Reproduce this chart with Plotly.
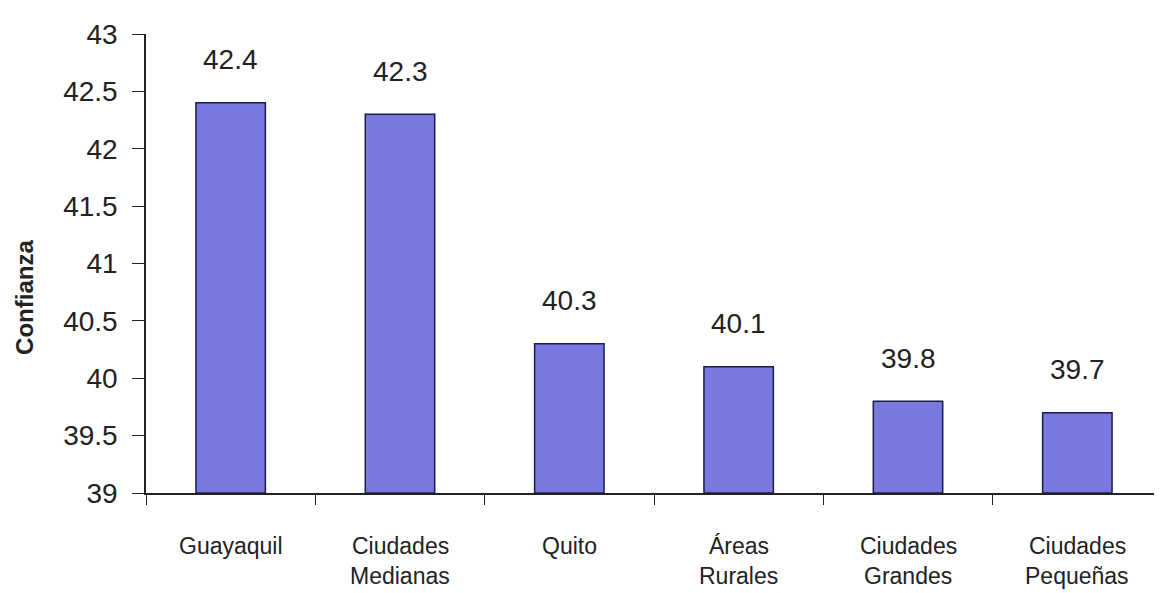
import plotly.graph_objects as go

categories = ["Guayaquil", "Ciudades<br>Medianas", "Quito", "Áreas<br>Rurales", "Ciudades<br>Grandes", "Ciudades<br>Pequeñas"]
values = [42.4, 42.3, 40.3, 40.1, 39.8, 39.7]
y_ticks = [39, 39.5, 40, 40.5, 41, 41.5, 42, 42.5, 43]
y_tick_text = ["39", "39.5", "40", "40.5", "41", "41.5", "42", "42.5", "43"]
BASE = 39

fig = go.Figure()
fig.add_trace(go.Bar(
    x=categories, y=[v - BASE for v in values], base=BASE,
    width=0.41,
    marker=dict(color="#7878E0", line=dict(color="#1c1c48", width=1.5)),
    hoverinfo="skip",
))

annotations = []
for c, v in zip(categories, values):
    annotations.append(dict(x=c, y=v, xref="x", yref="y", text=f"{v:.1f}", showarrow=False,
                            yanchor="middle", yshift=43, font=dict(size=28, color="#222222")))
    for i, line in enumerate(c.split("<br>")):
        annotations.append(dict(x=c, y=0, xref="x", yref="paper", text=line, showarrow=False,
                                yanchor="middle", yshift=-53 - 30 * i,
                                font=dict(size=23, color="#222222")))
annotations.append(dict(x=0, xref="paper", xshift=-121, xanchor="center", y=40.7, yref="y",
                        yanchor="middle", text="<b>Confianza</b>", textangle=-90, showarrow=False,
                        font=dict(size=24, color="#222222")))

fig.update_layout(
    width=1154, height=585,
    margin=dict(l=138, r=0, t=26, b=100),
    paper_bgcolor="white", plot_bgcolor="white",
    font=dict(family="Liberation Sans, Arial, sans-serif", color="#222222"),
    showlegend=False,
    annotations=annotations,
    xaxis=dict(showticklabels=False, showline=True, linecolor="#222222", linewidth=1.5,
               ticks="outside", tickson="boundaries", ticklen=10, tickcolor="#222222",
               showgrid=False, zeroline=False),
    yaxis=dict(range=[39, 43], tickvals=y_ticks, ticktext=y_tick_text, showline=True,
               linecolor="#222222", linewidth=1.5, ticks="outside", ticklen=12,
               tickcolor="#222222", showgrid=False, zeroline=False,
               ticklabelstandoff=9,
               tickfont=dict(size=28, color="#222222")),
)
fig.write_html("out.html")
